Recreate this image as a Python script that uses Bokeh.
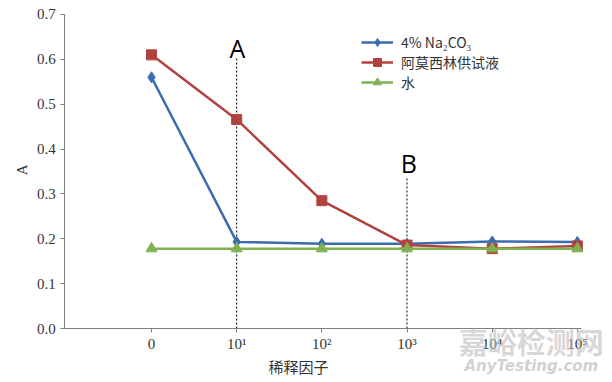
import math
from bokeh.plotting import figure
from bokeh.models import FixedTicker, Legend, LegendItem, Label
from bokeh.embed import file_html
from bokeh.resources import INLINE

# data
x_pos = [0, 1, 2, 3, 4, 5]
x_labels = ["0", "10¹", "10²", "10³", "10⁴", "10⁵"]
y_ticks = [0, 0.1, 0.2, 0.3, 0.4, 0.5, 0.6, 0.7]
na2co3 = [0.56, 0.193, 0.189, 0.189, 0.194, 0.193]
amox = [0.61, 0.466, 0.285, 0.186, 0.178, 0.184]
water = [0.178, 0.178, 0.178, 0.178, 0.178, 0.178]
series_names = ["4% Na₂CO₃", "阿莫西林供试液", "水"]
markers_A = {"x": 1, "top": 0.606, "label": "A", "text_y": 0.626}
markers_B = {"x": 3, "top": 0.337, "label": "B", "text_y": 0.368}

BLUE = "#3b6caf"
RED = "#b0433f"
GREEN = "#80b050"
SERIF = "'Liberation Serif', serif"

X_MIN, X_MAX = -1.02, 5.05
FW, FH = 610, 381
PX_X = 85.17   # px per x unit
PX_Y = 448.6   # px per y unit
x0 = -1.773
y1 = 0.7312
p = figure(frame_width=FW, frame_height=FH, output_backend="svg", toolbar_location=None,
           x_range=(x0, x0 + FW / PX_X), y_range=(y1 - FH / PX_Y, y1), min_border=0)
p.outline_line_color = None
p.xgrid.grid_line_color = None
p.ygrid.grid_line_color = None

for ax in (p.xaxis[0], p.yaxis[0]):
    ax.axis_line_color = "#7f7f7f"
    ax.major_tick_line_color = "#7f7f7f"
    ax.minor_tick_line_color = None
    ax.major_tick_out = 4
    ax.major_tick_in = 0
    ax.major_label_text_font = SERIF
    ax.major_label_text_font_size = "15px"
    ax.major_label_text_color = "#333333"

p.xaxis.fixed_location = 0
p.xaxis.bounds = (X_MIN, X_MAX)
p.xaxis.ticker = FixedTicker(ticks=x_pos)
p.xaxis.major_label_overrides = {x: l for x, l in zip(x_pos, x_labels)}
p.xaxis.major_label_standoff = 3

p.yaxis.fixed_location = X_MIN
p.yaxis.bounds = (0, 0.7)
p.yaxis.ticker = FixedTicker(ticks=y_ticks)
p.yaxis.major_label_overrides = {0: "0.0"}

# axis titles
p.add_layout(Label(x=1.726, y=-0.085, text="稀释因子", text_align="center", text_baseline="middle",
                   text_font="Noto Sans CJK SC", text_font_size="15px", text_color="#333333"))
p.add_layout(Label(x=-1.526, y=0.354, text="A", angle=math.pi / 2, text_align="center",
                   text_baseline="middle", text_font=SERIF, text_font_size="15px",
                   text_color="#333333"))

# watermark (drawn first, semi-transparent, so tick labels stay readable)
p.add_layout(Label(x=4.46, y=-0.027, text="嘉峪检测网", text_align="center", text_baseline="middle",
                   text_font="Noto Sans CJK SC", text_font_size="29px", text_font_style="bold",
                   text_color="#bdbdbd", text_alpha=0.6))
p.add_layout(Label(x=4.46, y=-0.0836, text="AnyTesting.com", text_align="center", text_baseline="middle",
                   text_font="DejaVu Sans", text_font_size="15px", text_font_style="bold italic",
                   text_color="#bdbdbd", text_alpha=0.7))

# dashed marker lines
for m in (markers_A, markers_B):
    p.segment(x0=[m["x"]], y0=[0], x1=[m["x"]], y1=[m["top"]], line_color="black",
              line_width=1, line_dash="2 2")

l1 = p.line(x_pos, na2co3, line_color=BLUE, line_width=2.5)
m1 = p.scatter(x_pos, na2co3, marker="diamond", size=11, color=BLUE)
l2 = p.line(x_pos, amox, line_color=RED, line_width=2.5)
m2 = p.scatter(x_pos, amox, marker="square", size=10, color=RED)
l3 = p.line(x_pos, water, line_color=GREEN, line_width=2.5)
m3 = p.scatter(x_pos, water, marker="triangle", size=11, color=GREEN)

for m, dx in ((markers_A, 0.01), (markers_B, 0.02)):
    p.add_layout(Label(x=m["x"] + dx, y=m["text_y"], text=m["label"], text_align="center",
                       text_baseline="alphabetic", text_font="Open Sans", text_font_size="25px",
                       text_color="black"))

legend = Legend(items=[
    LegendItem(label=series_names[0], renderers=[l1, m1]),
    LegendItem(label=series_names[1], renderers=[l2, m2]),
    LegendItem(label=series_names[2], renderers=[l3, m3]),
], location=(361, 289), border_line_color=None, background_fill_alpha=0,
    label_text_font="Noto Sans CJK SC", label_text_font_size="14px", label_text_color="#333333",
    glyph_width=32, glyph_height=20, label_height=20, spacing=0, padding=4, margin=0,
    label_standoff=8)
p.add_layout(legend)

open("out.html", "w").write(file_html(p, INLINE))
